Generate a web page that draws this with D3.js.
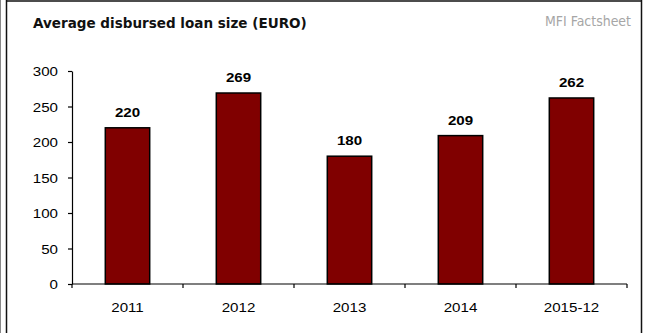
<!DOCTYPE html>
<html>
<head>
<meta charset="utf-8">
<script src="https://cdn.jsdelivr.net/npm/d3@7"></script>
<style>
  html, body { margin: 0; padding: 0; background: #fff; }
  svg { display: block; }
  .arial { font-family: "Liberation Sans", Arial, sans-serif; }
</style>
</head>
<body>
<svg id="chart" width="645" height="333"></svg>
<script>
// Average disbursed loan size per period (EURO)
const categories = ["2011", "2012", "2013", "2014", "2015-12"];
const loanSize = [220, 269, 180, 209, 262];
const yTicks = [0, 50, 100, 150, 200, 250, 300];

const svg = d3.select("#chart");
const W = 645, H = 333;
const stretch = 1.12; // Arial labels are drawn slightly wide

// frame
svg.append("rect").attr("width", W).attr("height", H).attr("fill", "#fff");
svg.append("line").attr("x1", 0.5).attr("x2", 0.5).attr("y1", 0).attr("y2", H)
  .attr("stroke", "#888").attr("stroke-width", 1);
svg.append("line").attr("x1", 6.5).attr("x2", 6.5).attr("y1", 0).attr("y2", H)
  .attr("stroke", "#111").attr("stroke-width", 1.5);
svg.append("line").attr("x1", 6).attr("x2", 642).attr("y1", 1).attr("y2", 1)
  .attr("stroke", "#111").attr("stroke-width", 1.5);
svg.append("line").attr("x1", 641.5).attr("x2", 641.5).attr("y1", 0).attr("y2", H)
  .attr("stroke", "#111").attr("stroke-width", 1.5);

// title
const title = svg.append("text")
  .attr("x", 33).attr("y", 27.5)
  .attr("font-family", "DejaVu Sans")
  .attr("font-weight", "bold")
  .attr("font-size", 13)
  .attr("fill", "#111")
  .text("Average disbursed loan size (EURO)");
const tw = title.node().getComputedTextLength();
title.attr("font-size", 13 * 274 / tw);

const src = svg.append("text")
  .attr("x", 631).attr("y", 26)
  .attr("text-anchor", "end")
  .attr("font-family", "DejaVu Sans Condensed")
  .attr("font-size", 12)
  .attr("fill", "#a6a6a6")
  .text("MFI Factsheet");
const sw = src.node().getComputedTextLength();
src.attr("font-size", 12 * 86 / sw);

// scales
const x = d3.scaleBand().domain(categories).range([72, 627])
  .paddingInner(0.6).paddingOuter(0.3);
const y = d3.scaleLinear().domain([0, 300]).range([284, 71]);
const step = x.step();

// bars
svg.append("g").selectAll("rect").data(loanSize).join("rect")
  .attr("x", (d, i) => x(categories[i]))
  .attr("y", d => y(d))
  .attr("width", x.bandwidth())
  .attr("height", d => y(0) - y(d))
  .attr("fill", "#800000")
  .attr("stroke", "#000")
  .attr("stroke-width", 1.5);

// value labels
svg.append("g").selectAll("text").data(loanSize).join("text")
  .attr("class", "arial")
  .attr("transform", (d, i) =>
    `translate(${x(categories[i]) + x.bandwidth() / 2},${y(d) - 11}) scale(${stretch},1)`)
  .attr("text-anchor", "middle")
  .attr("font-weight", "bold")
  .attr("font-size", 13.5)
  .attr("fill", "#000")
  .text(d => d);

// y axis
const yAxis = d3.axisLeft(y).tickValues(yTicks).tickSize(4).tickPadding(10).tickSizeOuter(0);
const gy = svg.append("g").attr("transform", "translate(72,0)").call(yAxis);
gy.attr("font-family", null).attr("font-size", null);
gy.select(".domain").attr("stroke", "#000").attr("stroke-width", 1.2);
gy.selectAll(".tick line").attr("stroke", "#000").attr("stroke-width", 1.2);
gy.selectAll(".tick text")
  .attr("class", "arial")
  .attr("font-size", 13.5)
  .attr("fill", "#000")
  .attr("dy", "0.35em")
  .each(function () {
    const t = d3.select(this);
    const xx = +t.attr("x");
    t.attr("x", null).attr("transform", `translate(${xx},0) scale(${stretch},1)`);
  });

// x axis: ticks fall between categories
const xAxisLine = svg.append("g");
xAxisLine.append("line")
  .attr("x1", 72).attr("x2", 627).attr("y1", y(0)).attr("y2", y(0))
  .attr("stroke", "#000").attr("stroke-width", 1.2);
const bounds = categories.map(c => x(c) - x.paddingInner() * step / 2);
bounds.push(x.range()[1]);
bounds[0] = x.range()[0];
xAxisLine.selectAll("line.tk").data(bounds).join("line")
  .attr("class", "tk")
  .attr("x1", d => d).attr("x2", d => d)
  .attr("y1", y(0)).attr("y2", y(0) + 4)
  .attr("stroke", "#000").attr("stroke-width", 1.2);
xAxisLine.selectAll("text").data(categories).join("text")
  .attr("class", "arial")
  .attr("transform", d => `translate(${x(d) + x.bandwidth() / 2},${y(0) + 28}) scale(${stretch},1)`)
  .attr("text-anchor", "middle")
  .attr("font-size", 13.5)
  .attr("fill", "#000")
  .text(d => d);
</script>
</body>
</html>
